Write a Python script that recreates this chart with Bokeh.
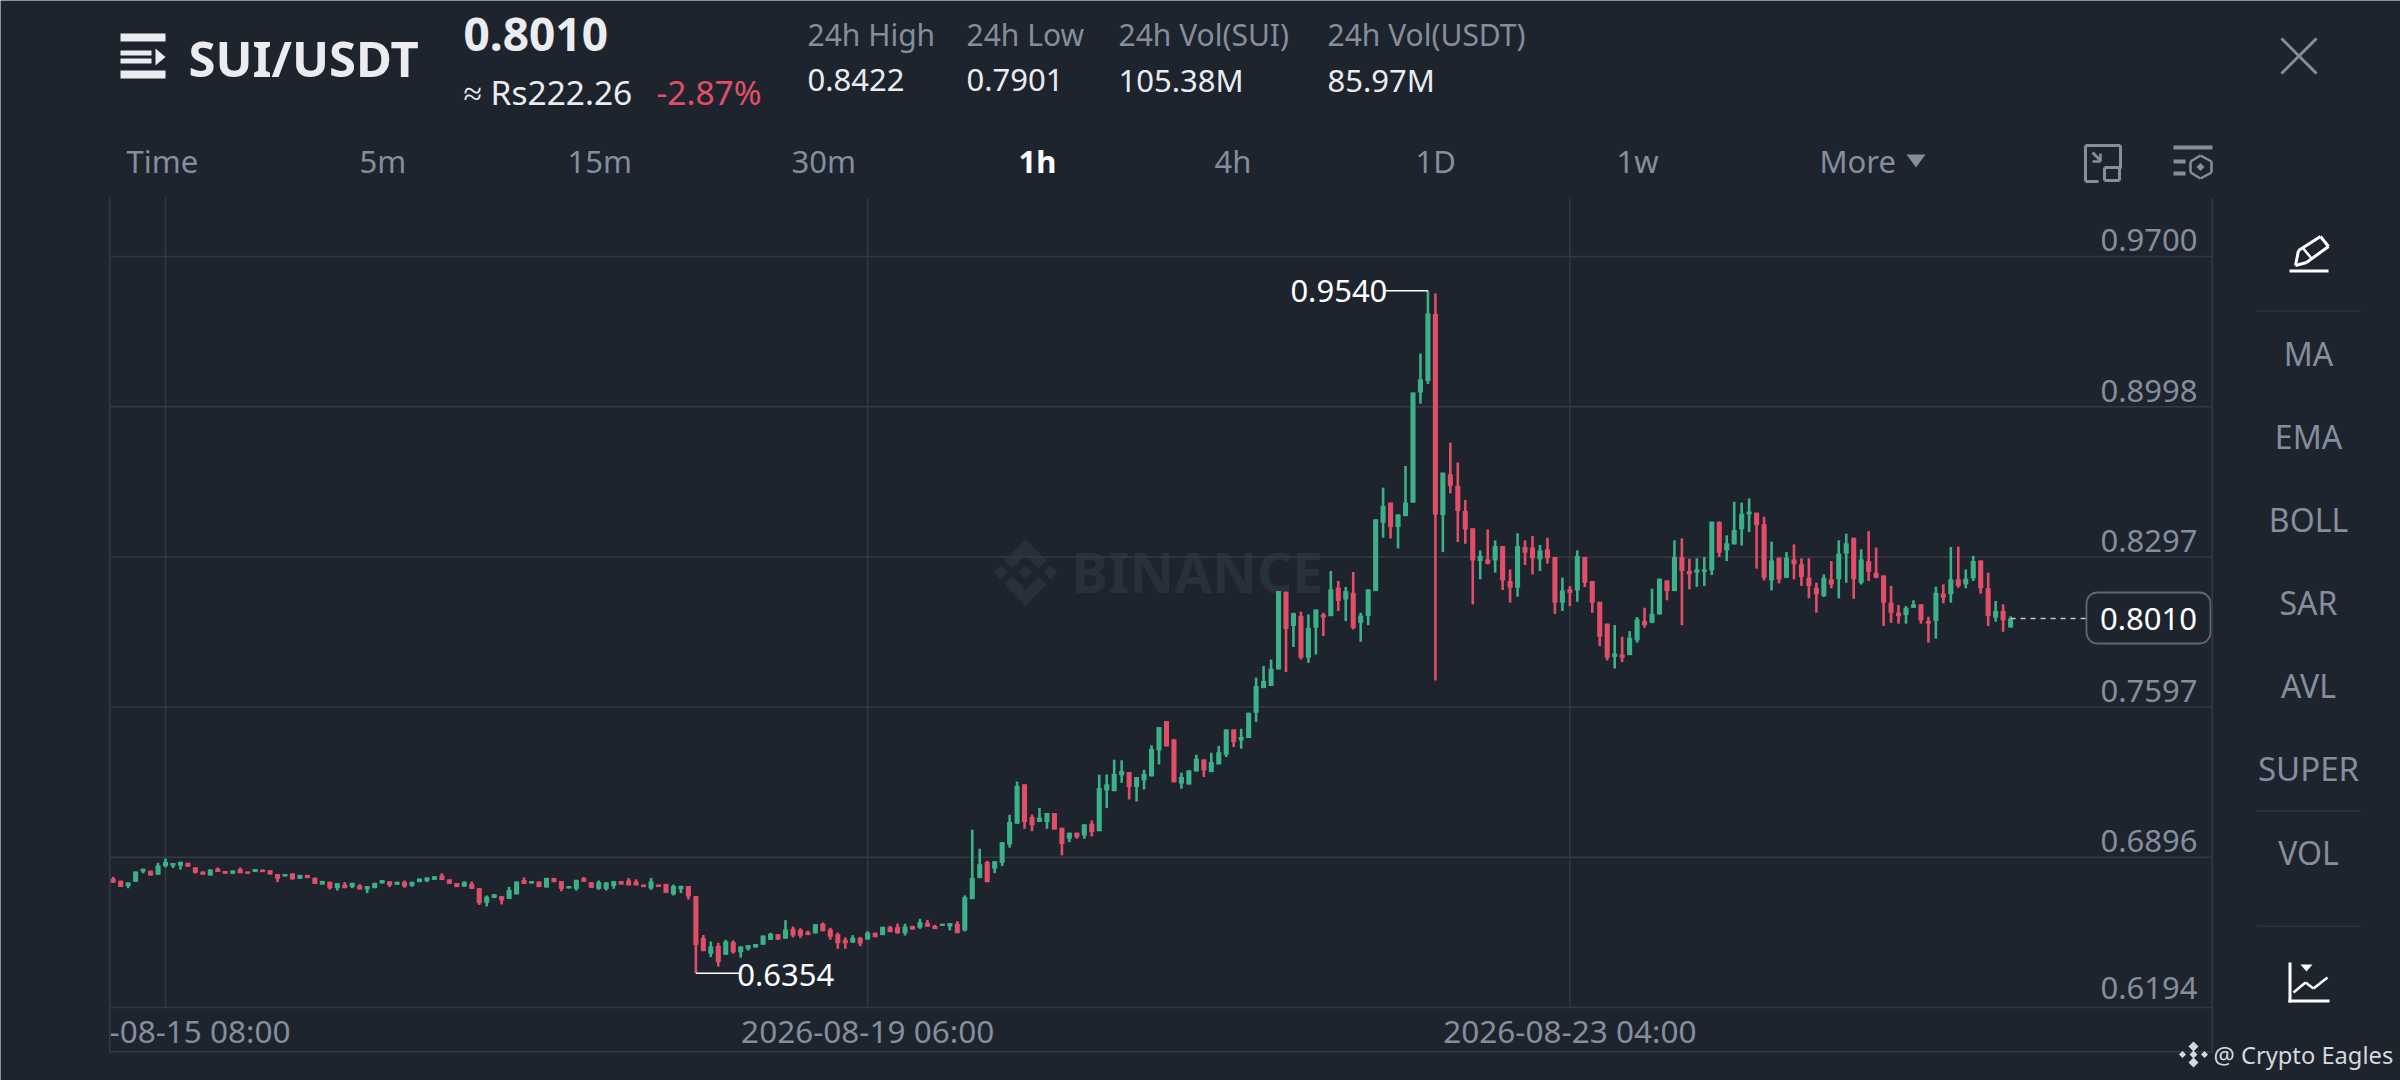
import math
from bokeh.embed import file_html
from bokeh.models import BoxAnnotation, Label, PolyAnnotation, Range1d
from bokeh.plotting import figure
from bokeh.resources import INLINE

opens = [
.6795,.6786,.6761,.6781,.6829,.6832,.6814,.6854,.6856,.6856,
.6870,.6849,.6829,.6810,.6842,.6831,.6818,.6840,.6829,.6826,
.6838,.6835,.6817,.6806,.6820,.6795,.6813,.6800,.6768,.6781,
.6751,.6768,.6757,.6764,.6745,.6751,.6773,.6783,.6767,.6779,
.6762,.6779,.6784,.6790,.6810,.6792,.6775,.6758,.6771,.6751,
.6683,.6705,.6714,.6701,.6722,.6789,.6773,.6782,.6754,.6799,
.6784,.6750,.6748,.6798,.6779,.6748,.6748,.6761,.6784,.6787,
.6782,.6768,.6750,.6768,.6771,.6722,.6746,.6761,.6714,.6519,
.6445,.6482,.6440,.6499,.6452,.6468,.6474,.6487,.6510,.6536,
.6515,.6561,.6556,.6546,.6540,.6585,.6558,.6536,.6510,.6497,
.6519,.6511,.6543,.6532,.6569,.6569,.6541,.6575,.6567,.6589,
.6575,.6575,.6572,.6585,.6554,.6700,.6798,.6873,.6842,.6869,
.6955,.7052,.7236,.7083,.7060,.7060,.7102,.7033,.6982,.7010,
.6997,.7052,.7017,.7207,.7204,.7278,.7293,.7223,.7254,.7273,
.7394,.7531,.7446,.7239,.7235,.7296,.7352,.7293,.7329,.7374,
.7492,.7441,.7452,.7570,.7685,.7695,.7772,.8135,.7975,.8021,
.7827,.7967,.8029,.8021,.8154,.8099,.8130,.7990,.8021,.8138,
.8457,.8551,.8437,.8488,.8551,.9065,.9119,.9431,.8493,.8683,
.8629,.8512,.8431,.8278,.8286,.8281,.8348,.8185,.8154,.8344,
.8341,.8286,.8333,.8297,.8084,.8146,.8141,.8297,.8185,.8088,
.7986,.7831,.7842,.7839,.7908,.7998,.7990,.8029,.8188,.8138,
.8297,.8232,.8224,.8228,.8235,.8462,.8328,.8356,.8426,.8496,
.8504,.8450,.8188,.8294,.8200,.8286,.8263,.8200,.8154,.8115,
.8193,.8193,.8313,.8387,.8177,.8278,.8224,.8211,.8084,.8037,
.8026,.8060,.8076,.7998,.7998,.8126,.8123,.8193,.8169,.8197,
.8281,.8151,.8014,.8045,.7968]
highs = [
.6803,.6786,.6778,.6829,.6842,.6832,.6870,.6890,.6868,.6875,
.6870,.6849,.6829,.6838,.6848,.6831,.6834,.6848,.6829,.6840,
.6838,.6835,.6817,.6817,.6820,.6813,.6813,.6800,.6785,.6781,
.6775,.6779,.6776,.6770,.6761,.6776,.6789,.6783,.6781,.6787,
.6781,.6796,.6801,.6807,.6820,.6792,.6775,.6784,.6782,.6751,
.6717,.6723,.6714,.6757,.6782,.6801,.6784,.6782,.6799,.6799,
.6784,.6761,.6790,.6803,.6779,.6787,.6778,.6784,.6784,.6798,
.6792,.6768,.6799,.6768,.6771,.6768,.6762,.6761,.6714,.6532,
.6502,.6496,.6510,.6507,.6479,.6485,.6490,.6530,.6543,.6536,
.6602,.6572,.6564,.6553,.6583,.6591,.6566,.6543,.6522,.6532,
.6524,.6550,.6543,.6571,.6575,.6586,.6585,.6575,.6608,.6603,
.6580,.6585,.6588,.6597,.6717,.7024,.6935,.6878,.6877,.6966,
.7094,.7249,.7236,.7095,.7126,.7102,.7102,.7033,.7010,.7010,
.7049,.7067,.7281,.7282,.7351,.7348,.7293,.7270,.7304,.7418,
.7503,.7531,.7446,.7290,.7301,.7374,.7352,.7383,.7415,.7492,
.7492,.7495,.7570,.7734,.7788,.7818,.8138,.8135,.8037,.8042,
.8029,.8052,.8037,.8232,.8185,.8157,.8227,.8037,.8146,.8473,
.8621,.8551,.8496,.8722,.9065,.9247,.9540,.9527,.8691,.8831,
.8738,.8563,.8431,.8328,.8426,.8375,.8348,.8239,.8408,.8375,
.8395,.8353,.8387,.8297,.8201,.8161,.8328,.8297,.8185,.8088,
.7986,.7979,.7925,.7951,.8017,.8060,.8149,.8196,.8188,.8375,
.8384,.8289,.8291,.8297,.8462,.8462,.8398,.8555,.8551,.8571,
.8504,.8485,.8369,.8294,.8320,.8356,.8291,.8291,.8177,.8216,
.8278,.8375,.8406,.8387,.8333,.8418,.8341,.8211,.8162,.8073,
.8068,.8095,.8076,.8018,.8158,.8169,.8344,.8345,.8239,.8302,
.8281,.8224,.8092,.8076,.8020]
lows = [
.6776,.6757,.6751,.6781,.6821,.6810,.6814,.6848,.6845,.6838,
.6851,.6820,.6814,.6810,.6826,.6818,.6818,.6821,.6818,.6826,
.6826,.6815,.6779,.6806,.6792,.6795,.6798,.6771,.6768,.6745,
.6740,.6751,.6751,.6745,.6728,.6751,.6773,.6756,.6767,.6753,
.6757,.6779,.6779,.6790,.6789,.6771,.6756,.6758,.6748,.6673,
.6666,.6705,.6675,.6701,.6722,.6771,.6773,.6756,.6754,.6779,
.6737,.6750,.6739,.6781,.6753,.6743,.6740,.6748,.6768,.6764,
.6764,.6756,.6743,.6757,.6729,.6717,.6728,.6698,.6354,.6457,
.6429,.6385,.6440,.6445,.6427,.6460,.6474,.6487,.6510,.6510,
.6515,.6521,.6519,.6532,.6540,.6550,.6511,.6468,.6468,.6497,
.6480,.6511,.6522,.6532,.6546,.6538,.6530,.6558,.6561,.6571,
.6560,.6575,.6554,.6541,.6549,.6700,.6798,.6779,.6821,.6854,
.6940,.7052,.7028,.7017,.7060,.7028,.7025,.6904,.6966,.6982,
.6982,.6993,.7017,.7125,.7204,.7243,.7165,.7156,.7212,.7273,
.7329,.7413,.7245,.7215,.7235,.7296,.7270,.7293,.7329,.7363,
.7410,.7402,.7452,.7527,.7685,.7695,.7772,.7760,.7877,.7819,
.7803,.7842,.7928,.8021,.8045,.7998,.7959,.7901,.7979,.8138,
.8387,.8384,.8337,.8488,.8551,.9013,.9105,.7721,.8320,.8594,
.8367,.8359,.8076,.8193,.8263,.8224,.8143,.8084,.8112,.8260,
.8216,.8232,.8266,.8032,.8045,.8068,.8088,.8157,.8037,.7881,
.7814,.7777,.7807,.7839,.7897,.7967,.7990,.8029,.8095,.8138,
.7979,.8146,.8158,.8162,.8213,.8297,.8278,.8356,.8351,.8414,
.8243,.8188,.8141,.8174,.8200,.8193,.8162,.8104,.8037,.8110,
.8151,.8104,.8177,.8102,.8169,.8185,.8197,.7975,.7990,.7986,
.7986,.8060,.7986,.7897,.7916,.8081,.8084,.8154,.8151,.8185,
.8126,.7975,.7995,.7948,.7968]
closes = [
.6776,.6757,.6778,.6829,.6842,.6810,.6857,.6873,.6868,.6875,
.6851,.6823,.6814,.6838,.6826,.6818,.6834,.6821,.6818,.6840,
.6826,.6815,.6795,.6817,.6792,.6813,.6798,.6771,.6785,.6751,
.6775,.6751,.6776,.6745,.6761,.6776,.6789,.6764,.6781,.6759,
.6781,.6796,.6801,.6807,.6789,.6771,.6756,.6779,.6748,.6681,
.6711,.6723,.6694,.6742,.6782,.6771,.6784,.6756,.6799,.6779,
.6748,.6761,.6790,.6781,.6753,.6779,.6778,.6784,.6768,.6764,
.6764,.6756,.6782,.6757,.6729,.6761,.6762,.6712,.6486,.6457,
.6479,.6406,.6502,.6452,.6479,.6485,.6490,.6530,.6538,.6510,
.6558,.6530,.6529,.6532,.6583,.6550,.6524,.6494,.6494,.6519,
.6493,.6544,.6522,.6571,.6546,.6541,.6572,.6558,.6592,.6571,
.6560,.6585,.6588,.6541,.6709,.6799,.6863,.6779,.6877,.6966,
.7060,.7228,.7060,.7044,.7080,.7102,.7025,.6958,.7010,.6989,
.7049,.7013,.7218,.7236,.7285,.7298,.7223,.7270,.7285,.7402,
.7503,.7413,.7245,.7270,.7301,.7355,.7301,.7340,.7386,.7492,
.7433,.7457,.7570,.7695,.7718,.7776,.8138,.7961,.8035,.7827,
.7967,.8052,.8014,.8146,.8092,.8138,.7967,.8024,.8146,.8473,
.8535,.8437,.8496,.8551,.9065,.9127,.9434,.8496,.8691,.8629,
.8512,.8426,.8281,.8302,.8266,.8348,.8188,.8154,.8348,.8317,
.8291,.8328,.8291,.8084,.8141,.8130,.8302,.8177,.8084,.7925,
.7827,.7847,.7827,.7920,.8006,.7979,.8032,.8196,.8138,.8297,
.8232,.8216,.8239,.8239,.8462,.8317,.8361,.8423,.8499,.8509,
.8446,.8200,.8281,.8193,.8294,.8263,.8204,.8162,.8123,.8200,
.8169,.8313,.8361,.8193,.8286,.8228,.8200,.8084,.8037,.8021,
.8060,.8076,.8001,.7986,.8130,.8107,.8193,.8162,.8196,.8278,
.8151,.8021,.8045,.8001,.8010]

hours = list(range(-7, 248))          # hours since 2026-08-15 08:00
price_ticks = [0.9700, 0.8998, 0.8297, 0.7597, 0.6896, 0.6194]
time_ticks = [0, 94, 188]
time_labels = ["", "2026-08-19 06:00", "2026-08-23 04:00"]
first_time_label = "-08-15 08:00"
last_price = 0.8010
tabs = [("Time", 127), ("5m", 360), ("15m", 568), ("30m", 792), ("1h", 1019),
        ("4h", 1215), ("1D", 1416), ("1w", 1617), ("More", 1820)]
indicators = [("MA", 353), ("EMA", 436), ("BOLL", 519), ("SAR", 602), ("AVL", 685), ("SUPER", 768), ("VOL", 852)]
stats = [("24h High", "0.8422", 808), ("24h Low", "0.7901", 967),
         ("24h Vol(SUI)", "105.38M", 1119), ("24h Vol(USDT)", "85.97M", 1328)]

BG = "#1e242e"
GRID = "#343943"
GREY = "#848e9c"
WHITE = "#eaecef"
UP = "#3cb088"
DOWN = "#e24e68"
FONT = "Noto Sans"

# The canvas is one frame in page pixels; the candles use the two chart scales below.
p = figure(width=2400, height=1080, output_backend="svg", toolbar_location=None,
           x_range=Range1d(0, 2400), y_range=Range1d(1080, 0), x_axis_type=None, y_axis_type=None,
           min_border=0, background_fill_color=BG, border_fill_color=BG, outline_line_color=None)
p.grid.visible = False
p.extra_x_ranges["time"] = Range1d(-22.088, 299.197)
p.extra_y_ranges["price"] = Range1d(0.58532, 1.08951)
CHART = dict(x_range_name="time", y_range_name="price")
PANE_TOP, PANE_BOTTOM = 0.99755, 0.6194
HOUR_MIN, HOUR_MAX = -7.363, 274.03


def text(x, y, s, size=30, color=GREY, align="left", bold=False, font=FONT, level="annotation"):
    p.add_layout(Label(x=x - 1, y=y, text=s, text_font=font, text_font_size=f"{size}px", text_color=color,
                       text_align=align, text_baseline="middle", level=level,
                       text_font_style="bold" if bold else "normal"))


def box(x0, y0, x1, y1, color, level="annotation", **kw):
    p.add_layout(BoxAnnotation(left=x0, right=x1, top=y0, bottom=y1, fill_color=color, fill_alpha=1,
                               line_color=None, level=level, **kw))


def poly(points, color, level="annotation"):
    p.add_layout(PolyAnnotation(xs=[q[0] for q in points], ys=[q[1] for q in points], fill_color=color,
                                fill_alpha=1, line_color=None, level=level))


def stroke(points, width, color):
    for (x0, y0), (x1, y1) in zip(points, points[1:]):
        d = math.hypot(x1 - x0, y1 - y0)
        nx, ny = -(y1 - y0) / d * width / 2, (x1 - x0) / d * width / 2
        poly([(x0 + nx, y0 + ny), (x1 + nx, y1 + ny), (x1 - nx, y1 - ny), (x0 - nx, y0 - ny)], color)


def diamond(cx, cy, r, color, level="annotation"):
    poly([(cx, cy - r), (cx + r, cy), (cx, cy + r), (cx - r, cy)], color, level)


# watermark
WM = "#2a303b"
cx, cy = 1025, 572
diamond(cx, cy, 7, WM, "underlay")
diamond(cx - 25, cy, 7, WM, "underlay")
diamond(cx + 25, cy, 7, WM, "underlay")
poly([(cx, cy - 33), (cx + 21, cy - 12), (cx + 13, cy - 4), (cx, cy - 17), (cx - 13, cy - 4), (cx - 21, cy - 12)], WM, "underlay")
poly([(cx, cy + 33), (cx + 21, cy + 12), (cx + 13, cy + 4), (cx, cy + 17), (cx - 13, cy + 4), (cx - 21, cy + 12)], WM, "underlay")
text(1072, 571, "BINANCE", 55, WM, bold=True, level="underlay")

# pane grid
p.segment(time_ticks, [PANE_BOTTOM] * 3, time_ticks, [PANE_TOP] * 3, line_color=GRID, line_width=1.5, **CHART)
p.segment([HOUR_MIN] * 6, price_ticks, [HOUR_MAX] * 6, price_ticks, line_color=GRID, line_width=1.5, **CHART)

# candles, from the price arrays
colors = [UP if c >= o else DOWN for o, c in zip(opens, closes)]
p.segment(hours, highs, hours, lows, line_color=colors, line_width=2.6, **CHART)
p.vbar(x=hours, width=0.68, top=[max(o, c) for o, c in zip(opens, closes)],
       bottom=[min(o, c) for o, c in zip(opens, closes)], fill_color=colors, line_color=None, **CHART)

# price labels above their grid lines
for t in price_ticks:
    p.add_layout(Label(x=2100, y=t, text=f"{t:.4f}", y_range_name="price",
                       text_font=FONT, text_font_size="31px", text_color=GREY, text_baseline="middle",
                       y_offset=19 if t == price_ticks[-1] else 16))

# time labels
for t, s in zip(time_ticks, time_labels):
    p.add_layout(Label(x=t, y=1030, text=s, x_range_name="time", text_align="center", text_baseline="middle",
                       text_font=FONT, text_font_size="31.5px", text_color=GREY))
text(110, 1030, first_time_label, 31.5)

# highest and lowest markers
hi = max(range(len(highs)), key=lambda i: highs[i])
lo = min(range(len(lows)), key=lambda i: lows[i])
p.segment([hours[hi] - 5.7], [highs[hi]], [hours[hi]], [highs[hi]], line_color="#ffffff", line_width=1.5, **CHART)
p.segment([hours[lo]], [lows[lo]], [hours[lo] + 5.8], [lows[lo]], line_color="#ffffff", line_width=1.5, **CHART)
p.add_layout(Label(x=hours[hi] - 5.7, y=highs[hi], text=f"{highs[hi]:.4f}", x_offset=2, text_align="right",
                   text_baseline="middle", text_font=FONT, text_font_size="31px", text_color="#ffffff", **CHART))
p.add_layout(Label(x=hours[lo] + 5.8, y=lows[lo], text=f"{lows[lo]:.4f}", x_offset=-2, y_offset=-2, text_align="left",
                   text_baseline="middle", text_font=FONT, text_font_size="31px", text_color="#ffffff", **CHART))

# last price
p.segment([hours[-1]], [last_price], [257.2], [last_price], line_color="#c4c8ce", line_width=1.5, line_dash="5 5", **CHART)
p.add_layout(BoxAnnotation(left=2086, right=2210, top=592, bottom=643, fill_color=BG, fill_alpha=1,
                           line_color="#ffffff", line_width=1.8, border_radius=11))
text(2149, 618, f"{last_price:.4f}", 31, "#ffffff", align="center")

# frame lines
box(108.5, 197, 110, 1052, GRID)
box(2211, 197, 2212.5, 1052, GRID)
box(109, 1050.5, 2212, 1052, GRID)

# header
for y0, y1 in [(33, 41), (70, 78)]:
    box(120, y0, 165, y1, WHITE)
box(120, 50, 151, 55, WHITE)
box(120, 58, 151, 63, WHITE)
poly([(155, 48), (165, 56.5), (155, 65)], WHITE)
text(189, 57, "SUI/USDT", 49, WHITE, bold=True)
text(464, 34, "0.8010", 46, WHITE, bold=True)
text(464, 91, "≈ Rs222.26", 33.5, WHITE)
text(657, 91, "-2.87%", 33.5, DOWN)
for label, val, x in stats:
    text(x, 33.5, label, 30, GREY)
    text(x, 79, val, 31, WHITE)
stroke([(2281, 38), (2316, 73)], 3, GREY)
stroke([(2316, 38), (2281, 73)], 3, GREY)

# interval tabs
for label, x in tabs:
    active = label == "1h"
    text(x, 160.5, label, 31, "#ffffff" if active else GREY, bold=active)
poly([(1906, 154), (1925, 154), (1915.5, 167)], GREY)
stroke([(2120, 168), (2120, 145), (2085, 145), (2085, 181), (2098, 181)], 3, GREY)
stroke([(2104, 167), (2119, 167), (2119, 180), (2104, 180), (2104, 167)], 3, GREY)
stroke([(2092, 152), (2100, 160)], 3, GREY)
stroke([(2100, 153), (2100, 161), (2092, 161)], 2.5, GREY)
box(2173, 145, 2212, 149, GREY)
box(2173, 159, 2185, 163, GREY)
box(2173, 171, 2185, 175, GREY)
stroke([(2200, 155), (2211, 161), (2211, 172), (2200, 178), (2190, 172), (2190, 161), (2200, 155)], 2.5, GREY)
diamond(2200, 166.5, 4, GREY)

# sidebar
for y in (310, 810, 925):
    box(2256, y, 2360, y + 1, GRID)
for label, y in indicators:
    text(2309, y, label, 33 if label == "SUPER" else 32, GREY, align="center")
stroke([(2298, 250), (2320, 236), (2328, 246), (2306, 262), (2295, 265), (2298, 250)], 3, "#ffffff")
stroke([(2302, 247), (2311, 258)], 2.5, "#ffffff")
box(2289, 269, 2328, 272, "#ffffff")
box(2288, 962, 2291, 1002, "#ffffff")
box(2288, 999, 2329, 1002, "#ffffff")
stroke([(2293, 992), (2305, 982), (2313, 988), (2327, 977)], 2.5, "#ffffff")
poly([(2300, 964), (2312, 964), (2306, 971)], "#ffffff")

# credit
MARK = "#d5d8dc"
for dx, dy, r in [(0, -8, 5), (0, 8, 5), (0, 0, 4), (-11, 0, 3.5), (11, 0, 3.5)]:
    diamond(2193 + dx, 1054 + dy, r, MARK)
text(2214, 1054, "@ Crypto Eagles", 23.7, MARK)

open("out.html", "w").write(file_html(p, INLINE))
